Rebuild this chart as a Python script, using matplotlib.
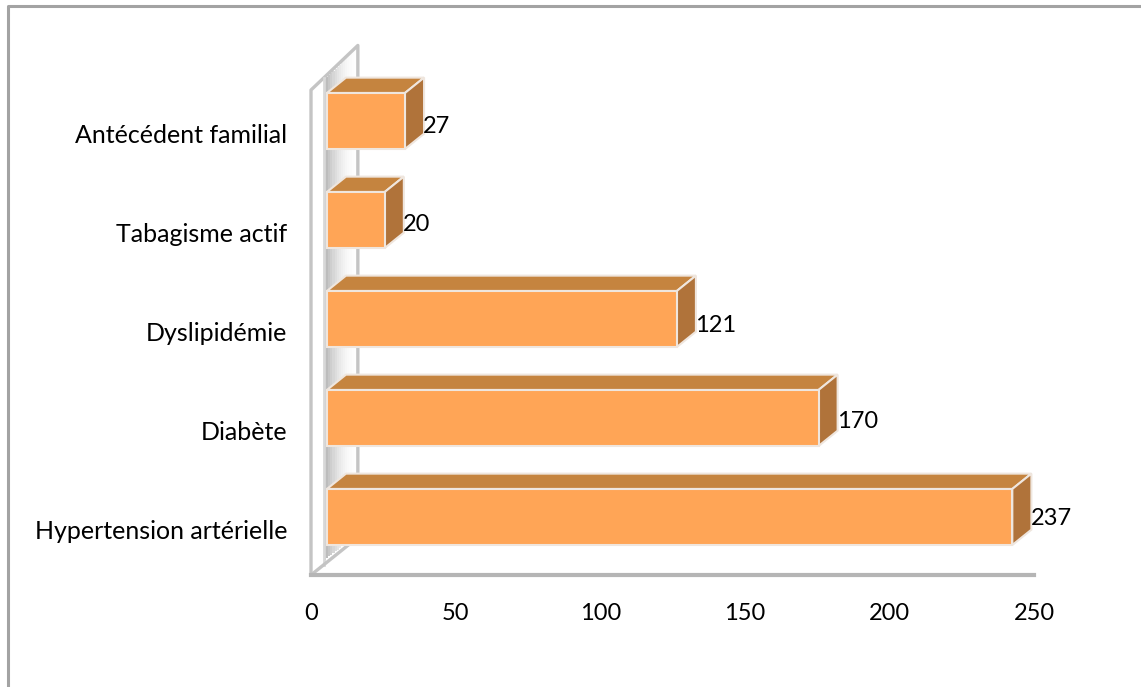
import matplotlib
matplotlib.use('Agg')
import matplotlib.pyplot as plt
import matplotlib.patches as patches
from matplotlib.transforms import ScaledTranslation

categories = ['Hypertension artérielle', 'Diabète', 'Dyslipidémie', 'Tabagisme actif', 'Antécédent familial']
values = [237, 170, 121, 20, 27]
x_ticks = [0, 50, 100, 150, 200, 250]

W, H = 1141, 687
FRONT = '#FFA556'
TOP = '#C5843F'
SIDE = '#B0733A'
EDGE = '#EFE6DE'
WALL = '#C4C4C4'
FS_CAT = 18
FS_NUM = 17

plt.rcParams['font.family'] = ['Lato', 'DejaVu Sans']

fig = plt.figure(figsize=(W / 100, H / 100), dpi=100)

# outer frame, in pixels (no right or bottom side in the source)
bg = fig.add_axes([0, 0, 1, 1])
bg.set_xlim(0, W)
bg.set_ylim(H, 0)
bg.axis('off')
bg.plot([7.5, 7.5, W], [H, 5.5, 5.5], color='#A3A3A3', lw=2.2)

# axes box: x 311..1034 px, y 90..575 px
ax = fig.add_axes([311 / W, 1 - 575 / H, (1034 - 311) / W, (575 - 90) / H])
ax.set_xlim(0, 250)
ax.set_ylim(-0.586, 4.313)
ax.patch.set_alpha(0)
for s in ax.spines.values():
    s.set_visible(False)

ox = 5.5     # wall offset of the front of the bars
dx = 6.6     # depth of the boxes
dy = 0.155
bar_h = 0.566
wall_dx = 16.2
wall_dy = 0.45
floor_dy = 0.38
y0, y1 = ax.get_ylim()

# back wall, gradient from the shadow of the bars to white
n = 16
for i in range(n):
    a = i / n
    xa = ox - 1 + a * (wall_dx - ox + 1)
    xb = ox - 1 + (i + 1) / n * (wall_dx - ox + 1)
    top = y1 + wall_dy * xb / wall_dx - 0.03
    bottom = y0 + floor_dy * xb / wall_dx + 0.03
    ax.fill_between([xa, xb], bottom, top, color='#808080', alpha=0.6 * (1 - a) ** 2.2, lw=0, zorder=1, clip_on=False)

# wall outline
ax.plot([0, 0, wall_dx, wall_dx], [y0, y1, y1 + wall_dy, y0 + floor_dy], color=WALL, lw=2.4, zorder=1.5, clip_on=False)
ax.plot([ox - 1, ox - 1], [y0 + 0.1, y1 + 0.12], color='#D8D8D8', lw=2, zorder=1.5, clip_on=False)
ax.plot([0, wall_dx], [y0, y0 + floor_dy], color=WALL, lw=2.4, zorder=1.5)
# floor
ax.plot([0, 250], [y0, y0], color='#B5B5B5', lw=3, zorder=1.5, clip_on=False)

ys = list(range(len(categories)))
ax.barh(ys, values, left=ox, height=bar_h, color=FRONT, edgecolor=EDGE, lw=1.5, zorder=4)
label_shift = [-0.02, -0.04, -0.07, -0.05, -0.06]
for y, v, sh in zip(ys, values, label_shift):
    r = ox + v
    t = y + bar_h / 2
    b = y - bar_h / 2
    ax.add_patch(patches.Polygon([(ox, t), (r, t), (r + dx, t + dy), (ox + dx, t + dy)], fc=TOP, ec=EDGE, lw=1.5, zorder=3, clip_on=False))
    ax.add_patch(patches.Polygon([(r, t), (r + dx, t + dy), (r + dx, b + dy), (r, b)], fc=SIDE, ec=EDGE, lw=1.5, zorder=3, clip_on=False))
    ax.text(r + dx - 0.3, y + sh, str(v), ha='left', va='center', fontsize=FS_NUM, color='black', zorder=5)

ax.set_yticks(ys)
ax.set_yticklabels(categories, fontsize=FS_CAT)
ax.set_xticks(x_ticks)
ax.tick_params(axis='x', labelsize=FS_NUM, length=0, pad=20)
ax.tick_params(axis='y', length=0, pad=17)

# category names sit lower than the bar centres
shift = ScaledTranslation(0, -13 / 100, fig.dpi_scale_trans)
for lab in ax.get_yticklabels():
    lab.set_transform(lab.get_transform() + shift)

fig.savefig('out.png', dpi=100)
